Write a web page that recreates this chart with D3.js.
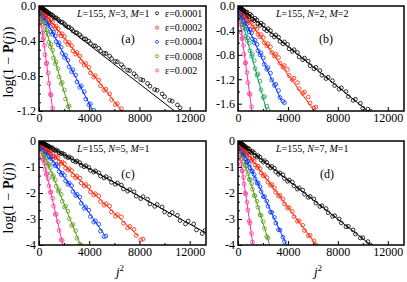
<!DOCTYPE html>
<html>
<head>
<meta charset="utf-8">
<script src="https://cdn.jsdelivr.net/npm/d3@7"></script>
<style>
  body { margin: 0; background: #fff; }
  svg { display: block; font-family: "Liberation Serif", "Times New Roman", serif; }
</style>
</head>
<body>
<svg id="chart" width="407" height="282"></svg>
<script>
// marker positions: j^2 for j = 3, 6, 9, ... and their partners at (j+1)^2
const jSquared = [9, 36, 81, 144, 225, 324, 441, 576, 729, 900, 1089, 1296, 1521, 1764, 2025, 2304,
  2601, 2916, 3249, 3600, 3969, 4356, 4761, 5184, 5625, 6084, 6561, 7056, 7569, 8100, 8649, 9216,
  9801, 10404, 11025, 11664, 12321, 12996];
const jSquaredNext = [16, 49, 100, 169, 256, 361, 484, 625, 784, 961, 1156, 1369, 1600, 1849, 2116, 2401,
  2704, 3025, 3364, 3721, 4096, 4489, 4900, 5329, 5776, 6241, 6724, 7225, 7744, 8281, 8836, 9409,
  10000, 10609, 11236, 11881, 12544, 13225];

const epsLabels = ["ε=0.0001", "ε=0.0002", "ε=0.0004", "ε=0.0008", "ε=0.002"];

const xTicks = [0, 4000, 8000, 12000];
const xMinorTicks = [2000, 6000, 10000];

// panel (a) L=155, N=3, M=1
const aBlack = [-0.001, -0.004, -0.008, -0.015, -0.023, -0.033, -0.045, -0.059, -0.075, -0.093, -0.106, -0.138,
  -0.152, -0.187, -0.204, -0.242, -0.262, -0.306, -0.329, -0.377, -0.403, -0.455, -0.484, -0.540, -0.573, -0.633,
  -0.670, -0.733, -0.774, -0.840, -0.885, -0.955, -1.004, -1.078, -1.130];
const aBlackNext = [-0.002, -0.005, -0.010, -0.017, -0.026, -0.037, -0.050, -0.064, -0.081, -0.099, -0.125, -0.135,
  -0.171, -0.184, -0.224, -0.241, -0.285, -0.306, -0.352, -0.377, -0.428, -0.456, -0.511, -0.543, -0.601, -0.637,
  -0.699, -0.738, -0.804, -0.847, -0.916, -0.963, -1.036, -1.087, -1.163];
const aRed = [-0.002, -0.007, -0.015, -0.026, -0.041, -0.059, -0.068, -0.117, -0.121, -0.180, -0.182, -0.252,
  -0.260, -0.340, -0.350, -0.438, -0.455, -0.550, -0.572, -0.675, -0.702, -0.813, -0.847, -0.963, -1.004, -1.127, -1.174];
const aRedNext = [-0.003, -0.009, -0.018, -0.031, -0.047, -0.066, -0.108, -0.094, -0.163, -0.155, -0.230, -0.229,
  -0.311, -0.317, -0.405, -0.417, -0.512, -0.531, -0.632, -0.657, -0.765, -0.797, -0.912, -0.950, -1.071, -1.116, -1.244];
const aBlue = [-0.003, -0.010, -0.023, -0.040, -0.063, -0.080, -0.135, -0.148, -0.218, -0.236, -0.322, -0.345,
  -0.444, -0.472, -0.588, -0.620, -0.750, -0.790, -0.930, -0.980, -1.130, -1.190];
const aBlueNext = [-0.004, -0.014, -0.028, -0.047, -0.071, -0.126, -0.110, -0.199, -0.194, -0.293, -0.298, -0.407,
  -0.421, -0.541, -0.565, -0.695, -0.729, -0.869, -0.914, -1.063, -1.118, -1.270];
const aGreen = [-0.004, -0.018, -0.040, -0.070, -0.095, -0.175, -0.195, -0.305, -0.330, -0.465, -0.505, -0.660,
  -0.715, -0.890, -0.960, -1.150];
const aGreenNext = [-0.008, -0.024, -0.049, -0.082, -0.155, -0.146, -0.266, -0.275, -0.413, -0.439, -0.594, -0.638,
  -0.811, -0.872, -1.063, -1.142];
const aPink = [-0.010, -0.039, -0.070, -0.185, -0.220, -0.385, -0.450, -0.660, -0.765, -1.010, -1.170];
const aPinkNext = [-0.017, -0.053, -0.139, -0.154, -0.309, -0.363, -0.558, -0.651, -0.885, -1.017, -1.290];
const aFits = [[10800, -1.2], [6600, -1.2], [4300, -1.2], [2460, -1.2], [1100, -1.2]];

// panel (b) L=155, N=2, M=2
const bBlack = [-0.001, -0.006, -0.013, -0.024, -0.037, -0.053, -0.073, -0.095, -0.100, -0.174, -0.160, -0.239,
  -0.230, -0.316, -0.310, -0.405, -0.405, -0.506, -0.512, -0.619, -0.630, -0.744, -0.762, -0.880, -0.904, -1.029,
  -1.058, -1.189, -1.224, -1.362, -1.402, -1.546, -1.595, -1.690];
const bBlackNext = [-0.003, -0.008, -0.017, -0.028, -0.042, -0.060, -0.080, -0.103, -0.154, -0.134, -0.216, -0.201,
  -0.289, -0.280, -0.374, -0.371, -0.471, -0.474, -0.580, -0.589, -0.701, -0.716, -0.834, -0.854, -0.978, -1.005,
  -1.134, -1.167, -1.303, -1.341, -1.483, -1.527, -1.675, -1.725];
const bRed = [-0.002, -0.010, -0.022, -0.039, -0.061, -0.087, -0.095, -0.180, -0.170, -0.270, -0.265, -0.380,
  -0.380, -0.505, -0.515, -0.652, -0.670, -0.817, -0.845, -1.002, -1.040, -1.206, -1.255, -1.430, -1.490, -1.673];
const bRedNext = [-0.004, -0.013, -0.027, -0.046, -0.069, -0.097, -0.161, -0.139, -0.242, -0.229, -0.342, -0.340,
  -0.462, -0.469, -0.601, -0.618, -0.760, -0.787, -0.938, -0.975, -1.136, -1.182, -1.353, -1.409, -1.590, -1.655];
const bBlue = [-0.004, -0.016, -0.035, -0.063, -0.080, -0.175, -0.170, -0.285, -0.290, -0.427, -0.440, -0.600,
  -0.630, -0.800, -0.850, -1.035, -1.100, -1.300, -1.385, -1.560];
const bBlueNext = [-0.007, -0.021, -0.044, -0.074, -0.146, -0.122, -0.246, -0.237, -0.376, -0.383, -0.538, -0.561,
  -0.731, -0.769, -0.955, -1.009, -1.211, -1.281, -1.498, -1.584];
const bGreen = [-0.006, -0.026, -0.058, -0.090, -0.195, -0.200, -0.355, -0.380, -0.565, -0.610, -0.825, -0.895,
  -1.135, -1.230, -1.500, -1.640];
const bGreenNext = [-0.012, -0.035, -0.072, -0.162, -0.144, -0.300, -0.308, -0.490, -0.524, -0.732, -0.792, -1.026,
  -1.112, -1.371, -1.484, -1.700];
const bPink = [-0.014, -0.056, -0.100, -0.260, -0.310, -0.540, -0.645, -0.935, -1.090, -1.435, -1.650];
const bPinkNext = [-0.025, -0.076, -0.195, -0.222, -0.437, -0.520, -0.790, -0.929, -1.255, -1.450, -1.750];
const bFits = [[10400, -1.72], [6120, -1.72], [3500, -1.56], [2300, -1.72], [1110, -1.72]];

// panel (c) L=155, N=5, M=1
const cBlack = [-0.002, -0.010, -0.022, -0.038, -0.060, -0.086, -0.117, -0.153, -0.194, -0.239, -0.270, -0.365,
  -0.385, -0.490, -0.515, -0.640, -0.665, -0.805, -0.835, -0.990, -1.020, -1.195, -1.225, -1.420, -1.450, -1.665,
  -1.695, -1.930, -1.955, -2.215, -2.240, -2.515, -2.540, -2.840, -2.860, -3.190, -3.190, -3.560];
const cBlackNext = [-0.004, -0.013, -0.027, -0.045, -0.068, -0.096, -0.129, -0.166, -0.209, -0.256, -0.327, -0.344,
  -0.451, -0.467, -0.593, -0.609, -0.754, -0.770, -0.930, -0.950, -1.130, -1.150, -1.350, -1.370, -1.590, -1.610,
  -1.845, -1.870, -2.120, -2.140, -2.420, -2.440, -2.730, -2.750, -3.060, -3.080, -3.420, -3.440];
const cRed = [-0.004, -0.017, -0.037, -0.066, -0.104, -0.149, -0.175, -0.300, -0.300, -0.455, -0.460, -0.640,
  -0.650, -0.860, -0.880, -1.120, -1.140, -1.410, -1.430, -1.730, -1.760, -2.080, -2.110, -2.470, -2.500, -2.890,
  -2.920, -3.340, -3.400, -3.800];
const cRedNext = [-0.007, -0.023, -0.046, -0.078, -0.118, -0.166, -0.263, -0.258, -0.411, -0.402, -0.592, -0.590,
  -0.806, -0.811, -1.043, -1.064, -1.314, -1.352, -1.617, -1.672, -1.954, -2.025, -2.324, -2.411, -2.727, -2.831,
  -3.163, -3.284, -3.632, -3.770];
const cBlue = [-0.006, -0.025, -0.056, -0.100, -0.130, -0.260, -0.270, -0.440, -0.460, -0.670, -0.700, -0.950,
  -0.990, -1.290, -1.330, -1.670, -1.720, -2.100, -2.160, -2.590, -2.660, -3.120, -3.200, -3.680];
const cBlueNext = [-0.011, -0.034, -0.070, -0.117, -0.238, -0.201, -0.396, -0.384, -0.605, -0.618, -0.863, -0.901,
  -1.172, -1.235, -1.531, -1.619, -1.939, -2.052, -2.398, -2.536, -2.907, -3.070, -3.466, -3.654];
const cGreen = [-0.011, -0.044, -0.098, -0.150, -0.300, -0.360, -0.580, -0.650, -0.940, -1.030, -1.390, -1.500,
  -1.930, -2.050, -2.550, -2.700, -3.250, -3.450, -3.960];
const cGreenNext = [-0.019, -0.059, -0.121, -0.264, -0.250, -0.517, -0.526, -0.836, -0.889, -1.243, -1.339, -1.736,
  -1.876, -2.317, -2.500, -2.985, -3.212, -3.740, -4.010];
const cPink = [-0.019, -0.076, -0.140, -0.340, -0.430, -0.740, -0.860, -1.290, -1.450, -1.980, -2.200, -2.820,
  -3.100, -3.800];
const cPinkNext = [-0.034, -0.103, -0.270, -0.305, -0.618, -0.698, -1.096, -1.253, -1.726, -1.958, -2.508, -2.815,
  -3.440, -3.823];
const cFits = [[13300, -3.54], [7900, -3.65], [5200, -3.6], [3300, -4], [1900, -4]];

// panel (d) L=155, N=7, M=1
const dBlack = [-0.003, -0.014, -0.030, -0.054, -0.085, -0.122, -0.166, -0.217, -0.274, -0.300, -0.450, -0.450,
  -0.620, -0.620, -0.810, -0.820, -1.030, -1.050, -1.280, -1.300, -1.550, -1.580, -1.850, -1.890, -2.170, -2.230,
  -2.520, -2.600, -2.900, -3.000, -3.300, -3.420, -3.730, -3.870];
const dBlackNext = [-0.006, -0.018, -0.038, -0.064, -0.096, -0.136, -0.182, -0.235, -0.295, -0.401, -0.395, -0.555,
  -0.562, -0.735, -0.756, -0.943, -0.977, -1.177, -1.225, -1.439, -1.500, -1.728, -1.802, -2.044, -2.132, -2.387,
  -2.488, -2.757, -2.872, -3.154, -3.282, -3.578, -3.720, -4.000];
const dRed = [-0.006, -0.023, -0.052, -0.092, -0.143, -0.180, -0.320, -0.330, -0.510, -0.530, -0.740, -0.780,
  -1.020, -1.070, -1.340, -1.410, -1.710, -1.800, -2.120, -2.230, -2.580, -2.710, -3.090, -3.240, -3.640, -3.830];
const dRedNext = [-0.010, -0.031, -0.064, -0.108, -0.163, -0.280, -0.258, -0.448, -0.449, -0.662, -0.686, -0.922,
  -0.969, -1.228, -1.298, -1.579, -1.672, -1.977, -2.093, -2.420, -2.559, -2.910, -3.071, -3.445, -3.629, -4.000];
const dBlue = [-0.009, -0.037, -0.083, -0.120, -0.270, -0.300, -0.500, -0.550, -0.800, -0.880, -1.170, -1.290,
  -1.620, -1.760, -2.140, -2.310, -2.740, -2.940, -3.410, -3.700];
const dBlueNext = [-0.016, -0.050, -0.103, -0.214, -0.224, -0.412, -0.459, -0.684, -0.768, -1.030, -1.151, -1.450,
  -1.608, -1.944, -2.139, -2.513, -2.745, -3.156, -3.425, -3.873];
const dGreen = [-0.014, -0.057, -0.100, -0.270, -0.310, -0.560, -0.640, -0.960, -1.080, -1.480, -1.640, -2.100,
  -2.320, -2.840, -3.100, -3.680];
const dGreenNext = [-0.025, -0.077, -0.197, -0.225, -0.442, -0.527, -0.800, -0.941, -1.271, -1.469, -1.855, -2.109,
  -2.552, -2.863, -3.362, -3.730];
const dPink = [-0.030, -0.120, -0.230, -0.530, -0.700, -1.140, -1.400, -1.990, -2.350, -3.080, -3.560];
const dPinkNext = [-0.053, -0.163, -0.373, -0.523, -0.892, -1.162, -1.652, -2.041, -2.651, -3.160, -3.889];
const dFits = [[10650, -4], [6280, -4], [3900, -4], [2540, -4], [1200, -4]];

const colors = ["#000000", "#ff2200", "#0033ff", "#5a9a1c", "#ff3399"];
const colorsB = ["#000000", "#ff2200", "#0033ff", "#139a55", "#ff3399"];

const svg = d3.select("#chart");
const xMax = 13300;

const panels = [
  { name: "a", left: 39, top: 6, w: 167, h: 105, yMin: -1.2,
    yTicks: [0, -0.4, -0.8, -1.2], yMinor: [-0.1, -0.2, -0.3, -0.5, -0.6, -0.7, -0.9, -1.0, -1.1],
    fmt: d => d.toFixed(1),
    series: [aBlack, aRed, aBlue, aGreen, aPink],
    partners: [aBlackNext, aRedNext, aBlueNext, aGreenNext, aPinkNext],
    fits: aFits, colors: colors, params: ["3", "1"], labelX: 128 },
  { name: "b", left: 238, top: 6, w: 166, h: 105, yMin: -1.72,
    yTicks: [0, -0.4, -0.8, -1.2, -1.6], yMinor: [-0.2, -0.6, -1.0, -1.4],
    fmt: d => d.toFixed(1),
    series: [bBlack, bRed, bBlue, bGreen, bPink],
    partners: [bBlackNext, bRedNext, bBlueNext, bGreenNext, bPinkNext],
    fits: bFits, colors: colorsB, params: ["2", "2"], labelX: 326 },
  { name: "c", left: 39, top: 141, w: 167, h: 104, yMin: -4,
    yTicks: [0, -1, -2, -3, -4], yMinor: [-1/3, -2/3, -4/3, -5/3, -7/3, -8/3, -10/3, -11/3],
    fmt: d => d.toFixed(0),
    series: [cBlack, cRed, cBlue, cGreen, cPink],
    partners: [cBlackNext, cRedNext, cBlueNext, cGreenNext, cPinkNext],
    fits: cFits, colors: colors, params: ["5", "1"], labelX: 128 },
  { name: "d", left: 238, top: 141, w: 166, h: 104, yMin: -4,
    yTicks: [0, -1, -2, -3, -4], yMinor: [-1/3, -2/3, -4/3, -5/3, -7/3, -8/3, -10/3, -11/3],
    fmt: d => d.toFixed(0),
    series: [dBlack, dRed, dBlue, dGreen, dPink],
    partners: [dBlackNext, dRedNext, dBlueNext, dGreenNext, dPinkNext],
    fits: dFits, colors: colors, params: ["7", "1"], labelX: 327 }
];

function styleAxis(sel, size) {
  sel.attr("font-family", "'Liberation Serif', 'Times New Roman', serif")
     .attr("font-size", size);
  sel.select(".domain").remove();
  sel.selectAll("line").attr("stroke-width", 1);
}

function drawMarkers(parent, values, xs, x, y, col) {
  parent.append("g").selectAll("circle")
    .data(values)
    .join("circle")
      .attr("cx", (d, k) => x(xs[k]))
      .attr("cy", d => y(d))
      .attr("r", 1.9)
      .attr("fill", "none")
      .attr("stroke", col)
      .attr("stroke-width", 0.8);
}

function drawPanel(p) {
  const g = svg.append("g").attr("transform", "translate(" + p.left + "," + p.top + ")");

  const x = d3.scaleLinear().domain([0, xMax]).range([0, p.w]);
  const y = d3.scaleLinear().domain([p.yMin, 0]).range([p.h, 0]);

  g.append("clipPath").attr("id", "clip-" + p.name)
    .append("rect").attr("width", p.w).attr("height", p.h);
  const plot = g.append("g").attr("clip-path", "url(#clip-" + p.name + ")");

  // pink first so black ends up on top
  for (let i = p.series.length - 1; i >= 0; i--) {
    const col = p.colors[i];
    const fit = p.fits[i];
    plot.append("line")
      .attr("x1", x(0)).attr("y1", y(0))
      .attr("x2", x(fit[0])).attr("y2", y(fit[1]))
      .attr("stroke", col).attr("stroke-width", 1);
    drawMarkers(plot, p.series[i], jSquared, x, y, col);
    drawMarkers(plot, p.partners[i], jSquaredNext, x, y, col);
  }

  // X axis, ticks pointing inward
  g.append("g")
    .attr("transform", "translate(0," + p.h + ")")
    .call(d3.axisBottom(x).tickValues(xTicks).tickSize(-4).tickPadding(2).tickFormat(d3.format("d")))
    .call(s => styleAxis(s, 12));
  g.append("g")
    .attr("transform", "translate(0," + p.h + ")")
    .call(d3.axisBottom(x).tickValues(xMinorTicks).tickSize(-2).tickFormat(""))
    .call(s => styleAxis(s, 12));

  // Y axis
  g.append("g")
    .call(d3.axisLeft(y).tickValues(p.yTicks).tickSize(-4).tickPadding(3).tickFormat(p.fmt))
    .call(s => styleAxis(s, 12));
  g.append("g")
    .call(d3.axisLeft(y).tickValues(p.yMinor).tickSize(-2).tickFormat(""))
    .call(s => styleAxis(s, 12));

  // frame
  g.append("rect")
    .attr("width", p.w).attr("height", p.h)
    .attr("fill", "none").attr("stroke", "#000").attr("stroke-width", 1.5);

  // parameters text
  const t = svg.append("text")
    .attr("x", p.left + 38).attr("y", p.top + 11)
    .attr("font-size", 10);
  t.append("tspan").attr("font-style", "italic").text("L");
  t.append("tspan").text("=155, ");
  t.append("tspan").attr("font-style", "italic").text("N");
  t.append("tspan").text("=" + p.params[0] + ", ");
  t.append("tspan").attr("font-style", "italic").text("M");
  t.append("tspan").text("=" + p.params[1]);

  svg.append("text")
    .attr("x", p.labelX).attr("y", p.top + 37)
    .attr("text-anchor", "middle").attr("font-size", 12)
    .text("(" + p.name + ")");
}

panels.forEach(drawPanel);

// legend in panel (a)
const legend = svg.append("g");
epsLabels.forEach((lab, i) => {
  const ly = 13.3 + i * 14.3;
  legend.append("circle")
    .attr("cx", 157).attr("cy", ly).attr("r", 1.5)
    .attr("fill", "none").attr("stroke", colors[i]).attr("stroke-width", 0.8);
  legend.append("text")
    .attr("x", 165).attr("y", ly + 3.5)
    .attr("font-size", 10)
    .text(lab);
});

// y axis titles
[62, 198].forEach(cy => {
  const t = svg.append("text")
    .attr("transform", "translate(13," + cy + ") rotate(-90)")
    .attr("text-anchor", "middle")
    .attr("font-size", 14);
  t.append("tspan").text("log(1 − ");
  t.append("tspan").attr("font-weight", "bold").text("P");
  t.append("tspan").text("(");
  t.append("tspan").attr("font-style", "italic").text("j");
  t.append("tspan").text("))");
});

// x axis titles
[120, 318].forEach(cx => {
  const t = svg.append("text")
    .attr("x", cx).attr("y", 276)
    .attr("text-anchor", "middle")
    .attr("font-size", 13);
  t.append("tspan").attr("font-style", "italic").text("j");
  t.append("tspan").attr("font-size", 9).attr("dy", -5).text("2");
});
</script>
</body>
</html>
